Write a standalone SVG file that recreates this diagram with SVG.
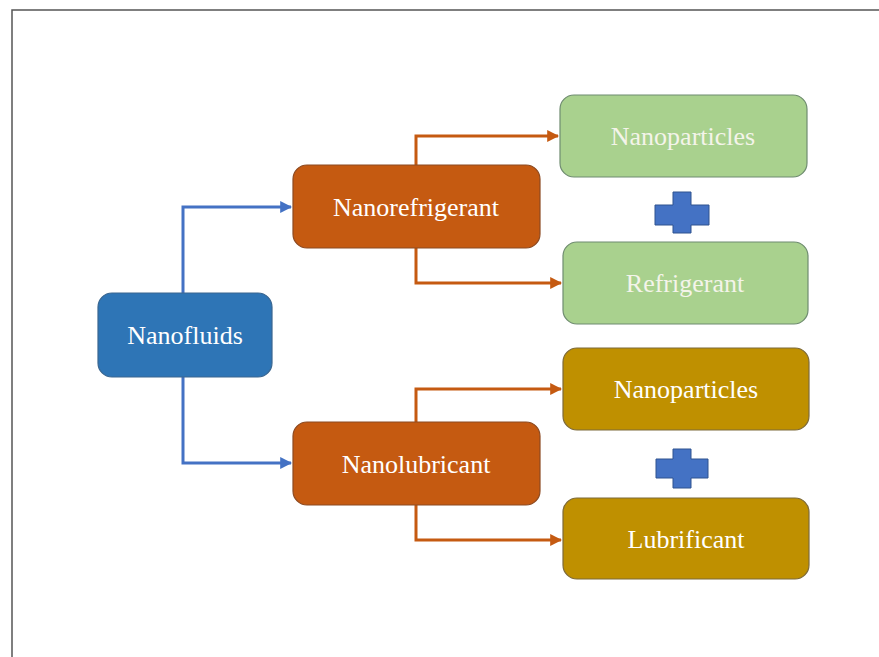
<svg xmlns="http://www.w3.org/2000/svg" width="879" height="657" viewBox="0 0 879 657">
<style>
text{font-family:"Liberation Serif","Times New Roman",serif;font-size:26px;fill:#ffffff;text-anchor:middle}
.blue{fill:#2E75B6;stroke:#3a6690;stroke-width:1.2}
.orange{fill:#C55A11;stroke:#8c4a22;stroke-width:1.2}
.green{fill:#A9D18E;stroke:#6f8c70;stroke-width:1.2}
.gold{fill:#BF9000;stroke:#7d6a3a;stroke-width:1.2}
.plus{fill:#4472C4;stroke:#2f528f;stroke-width:1}
.cb{fill:none;stroke:#4472C4;stroke-width:3}
.co{fill:none;stroke:#C55A11;stroke-width:3}
</style>
<defs>
<marker id="ab" viewBox="0 0 10 10" refX="9" refY="5" markerWidth="4" markerHeight="4" orient="auto" markerUnits="strokeWidth"><path d="M0,0 L10,5 L0,10 z" fill="#4472C4"/></marker>
<marker id="ao" viewBox="0 0 10 10" refX="9" refY="5" markerWidth="4" markerHeight="4" orient="auto" markerUnits="strokeWidth"><path d="M0,0 L10,5 L0,10 z" fill="#C55A11"/></marker>
</defs>
<rect width="879" height="657" fill="#ffffff"/>
<path d="M12,657 L12,10 L879,10" fill="none" stroke="#555555" stroke-width="1.5"/>
<g id="connectors">
<path class="cb" d="M183,293 L183,207 L291,207" marker-end="url(#ab)"/>
<path class="cb" d="M183,377 L183,463 L291,463" marker-end="url(#ab)"/>
<path class="co" d="M416,165 L416,136 L558,136" marker-end="url(#ao)"/>
<path class="co" d="M416,248 L416,283 L561,283" marker-end="url(#ao)"/>
<path class="co" d="M416,422 L416,389 L561,389" marker-end="url(#ao)"/>
<path class="co" d="M416,505 L416,540 L561,540" marker-end="url(#ao)"/>
</g>
<g id="nanofluids"><rect class="blue" x="98" y="293" width="174" height="84" rx="14"/><text x="185" y="344">Nanofluids</text></g>
<g id="nanorefrigerant"><rect class="orange" x="293" y="165" width="247" height="83" rx="14"/><text x="416" y="216">Nanorefrigerant</text></g>
<g id="nanolubricant"><rect class="orange" x="293" y="422" width="247" height="83" rx="14"/><text x="416" y="473">Nanolubricant</text></g>
<g id="nanoparticles1"><rect class="green" x="560" y="95" width="247" height="82" rx="14"/><text x="683" y="145" style="fill:#f4f4ea">Nanoparticles</text></g>
<g id="refrigerant"><rect class="green" x="563" y="242" width="245" height="82" rx="14"/><text x="685" y="292" style="fill:#f4f4ea">Refrigerant</text></g>
<g id="nanoparticles2"><rect class="gold" x="563" y="348" width="246" height="82" rx="14"/><text x="686" y="398">Nanoparticles</text></g>
<g id="lubrificant"><rect class="gold" x="563" y="498" width="246" height="81" rx="14"/><text x="686" y="548">Lubrificant</text></g>
<g id="plus1"><path class="plus" d="M673,192 H691 V205 H709 V225 H691 V233 H673 V225 H655 V205 H673 Z"/></g>
<g id="plus2"><path class="plus" d="M673,449 H691 V459 H708 V478 H691 V488 H673 V478 H656 V459 H673 Z"/></g>
</svg>
